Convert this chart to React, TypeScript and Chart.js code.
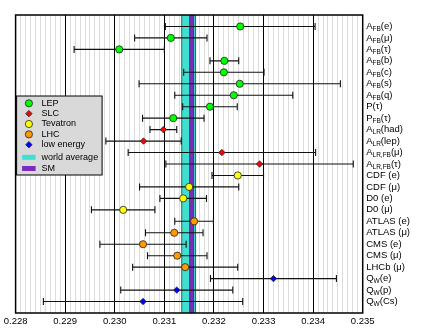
import React, { useEffect, useRef } from 'react';
import { Chart, registerables } from 'chart.js';

Chart.register(...registerables);

// ---- data ----
const categories = [
  'A_{FB}(e)', 'A_{FB}(μ)', 'A_{FB}(τ)', 'A_{FB}(b)', 'A_{FB}(c)', 'A_{FB}(s)', 'A_{FB}(q)',
  'P(τ)', 'P_{FB}(τ)', 'A_{LR}(had)', 'A_{LR}(lep)', 'A_{LR,FB}(μ)', 'A_{LR,FB}(τ)',
  'CDF (e)', 'CDF (μ)', 'D0 (e)', 'D0 (μ)', 'ATLAS (e)', 'ATLAS (μ)', 'CMS (e)', 'CMS (μ)',
  'LHCb (μ)', 'Q_{W}(e)', 'Q_{W}(p)', 'Q_{W}(Cs)',
];
const groupOf = [
  'LEP', 'LEP', 'LEP', 'LEP', 'LEP', 'LEP', 'LEP', 'LEP', 'LEP',
  'SLC', 'SLC', 'SLC', 'SLC',
  'Tevatron', 'Tevatron', 'Tevatron', 'Tevatron',
  'LHC', 'LHC', 'LHC', 'LHC', 'LHC',
  'low energy', 'low energy', 'low energy',
];
const values = [
  0.23253, 0.23113, 0.23009, 0.23221, 0.23220, 0.23252, 0.23240,
  0.23192, 0.23118, 0.23098, 0.23058, 0.23216, 0.23292,
  0.23248, 0.23150, 0.23138, 0.23017, 0.23160, 0.23120, 0.23057, 0.23126,
  0.23142, 0.23320, 0.23125, 0.23057,
];
const errors = [
  0.00151, 0.00073, 0.00091, 0.00029, 0.00081, 0.00203, 0.00119,
  0.00055, 0.00062, 0.00027, 0.00076, 0.00189, 0.00189,
  0.00052, 0.00100, 0.00047, 0.00064, 0.00039, 0.00058, 0.00087, 0.00060,
  0.00106, 0.00127, 0.00113, 0.00201,
];
const groupNames = ['LEP', 'SLC', 'Tevatron', 'LHC', 'low energy'];
const groupColors = ['#00ff00', '#ff0000', '#ffff00', '#ff9900', '#0000ff'];
const groupShapes = ['circle', 'rectRot', 'circle', 'circle', 'rectRot'];
const worldAverage = [0.23149, 0.00014]; // value, half-width
const smValue = [0.23155, 0.00004];
const xMajorTicks = [0.228, 0.229, 0.230, 0.231, 0.232, 0.233, 0.234, 0.235];
const xMin = 0.228;
const xMax = 0.235;
const xMinorStep = 0.0001;

const WA_COLOR = '#40e0d0';
const SM_COLOR = '#7b2cbf';
const FONT = "'Liberation Sans', Arial, Helvetica, sans-serif";

const isMajor = (v: number) => xMajorTicks.some((t) => Math.abs(t - v) < 1e-7);

function drawMarker(ctx: CanvasRenderingContext2D, shape: string, x: number, y: number, r: number, fill: string) {
  ctx.save();
  ctx.beginPath();
  if (shape === 'circle') {
    ctx.arc(x, y, r, 0, Math.PI * 2);
  } else {
    ctx.moveTo(x - r, y);
    ctx.lineTo(x, y - r);
    ctx.lineTo(x + r, y);
    ctx.lineTo(x, y + r);
    ctx.closePath();
  }
  ctx.fillStyle = fill;
  ctx.fill();
  ctx.lineWidth = 0.8;
  ctx.strokeStyle = '#222';
  ctx.stroke();
  ctx.restore();
}

const decorPlugin = {
  id: 'decor',
  beforeDatasetsDraw(chart: any) {
    const { ctx, chartArea, scales } = chart;
    const xs = scales.x;
    const ys = scales.y;
    ctx.save();
    const drawBand = (vals: number[], color: string) => {
      const l = xs.getPixelForValue(vals[0] - vals[1]);
      const r = xs.getPixelForValue(vals[0] + vals[1]);
      ctx.fillStyle = color;
      ctx.fillRect(l, chartArea.top, r - l, chartArea.bottom - chartArea.top);
      ctx.strokeStyle = '#333';
      ctx.lineWidth = 0.8;
      ctx.beginPath();
      ctx.moveTo(l, chartArea.top);
      ctx.lineTo(l, chartArea.bottom);
      ctx.moveTo(r, chartArea.top);
      ctx.lineTo(r, chartArea.bottom);
      ctx.stroke();
    };
    drawBand(worldAverage, WA_COLOR);
    drawBand(smValue, SM_COLOR);
    // error bars
    ctx.strokeStyle = '#111';
    ctx.lineWidth = 1.1;
    for (let i = 0; i < values.length; i++) {
      const y = ys.getPixelForValue(i);
      const l = xs.getPixelForValue(values[i] - errors[i]);
      const r = xs.getPixelForValue(values[i] + errors[i]);
      ctx.beginPath();
      ctx.moveTo(l, y);
      ctx.lineTo(r, y);
      ctx.moveTo(l, y - 3.5);
      ctx.lineTo(l, y + 3.5);
      ctx.moveTo(r, y - 3.5);
      ctx.lineTo(r, y + 3.5);
      ctx.stroke();
    }
    ctx.restore();
  },
  afterDraw(chart: any) {
    const { ctx, chartArea, scales } = chart;
    const ys = scales.y;
    ctx.save();
    // frame
    ctx.strokeStyle = '#000';
    ctx.lineWidth = 1.5;
    ctx.strokeRect(chartArea.left, chartArea.top, chartArea.right - chartArea.left, chartArea.bottom - chartArea.top);

    // category labels on the right, with subscripts
    ctx.fillStyle = '#000';
    ctx.textBaseline = 'middle';
    ctx.textAlign = 'left';
    const re = /^([^_]*)(?:_\{([^}]*)\})?(.*)$/;
    for (let i = 0; i < categories.length; i++) {
      const m = categories[i].match(re)!;
      const y = ys.getPixelForValue(i);
      let x = chartArea.right + 3.5;
      ctx.font = `9.5px ${FONT}`;
      ctx.fillText(m[1], x, y);
      x += ctx.measureText(m[1]).width;
      if (m[2]) {
        ctx.font = `6.5px ${FONT}`;
        ctx.fillText(m[2], x, y + 2.8);
        x += ctx.measureText(m[2]).width;
      }
      ctx.font = `9.5px ${FONT}`;
      ctx.fillText(m[3], x, y);
    }

    // legend
    const bx = chartArea.left + 1;
    const by = 96;
    const bw = 85.5;
    const bh = 79;
    ctx.fillStyle = '#d9d9d9';
    ctx.fillRect(bx, by, bw, bh);
    ctx.strokeStyle = '#000';
    ctx.lineWidth = 1;
    ctx.strokeRect(bx, by, bw, bh);
    ctx.font = `9px ${FONT}`;
    const mx = bx + 12.3;
    const tx = bx + 25;
    for (let k = 0; k < groupNames.length; k++) {
      const y = by + 7.3 + 10.35 * k;
      drawMarker(ctx, groupShapes[k], mx, y, groupShapes[k] === 'circle' ? 3.6 : 3.2, groupColors[k]);
      ctx.fillStyle = '#000';
      ctx.fillText(groupNames[k], tx, y);
    }
    const bands: [string, string][] = [['world average', WA_COLOR], ['SM', SM_COLOR]];
    bands.forEach(([name, color], j) => {
      const y = by + 61.3 + 11.2 * j;
      ctx.fillStyle = color;
      ctx.fillRect(bx + 5.5, y - 2.5, 13.5, 5);
      ctx.fillStyle = '#000';
      ctx.fillText(name, tx, y);
    });
    ctx.restore();
  },
};

export default function App() {
  const ref = useRef<HTMLCanvasElement | null>(null);
  useEffect(() => {
    if (!ref.current) return;
    const datasets = groupNames.map((g, k) => ({
      label: g,
      data: values
        .map((v, i) => ({ x: v, y: i, g: groupOf[i] }))
        .filter((p) => p.g === g)
        .map((p) => ({ x: p.x, y: p.y })),
      pointStyle: groupShapes[k],
      pointRadius: groupShapes[k] === 'circle' ? 3.6 : 3.2,
      backgroundColor: groupColors[k],
      borderColor: '#222',
      borderWidth: 0.8,
      showLine: false,
    }));
    const chart = new Chart(ref.current, {
      type: 'scatter',
      data: { datasets },
      plugins: [decorPlugin],
      options: {
        animation: false,
        responsive: true,
        maintainAspectRatio: false,
        layout: { padding: { left: 15.6, right: 64.3, top: 15, bottom: 0 } },
        plugins: { legend: { display: false }, tooltip: { enabled: false } },
        scales: {
          x: {
            type: 'linear',
            min: xMin,
            max: xMax,
            afterFit: (s: any) => { s.height = 17; },
            border: { display: false },
            grid: {
              drawTicks: false,
              color: (c: any) => (c.tick && isMajor(c.tick.value) ? '#000' : '#dcdcdc'),
              lineWidth: 1,
            },
            ticks: {
              stepSize: xMinorStep,
              autoSkip: false,
              maxRotation: 0,
              padding: 3,
              color: '#000',
              font: { family: FONT, size: 9.5 },
              callback: (v: any) => {
                const n = Number(v);
                return isMajor(n) ? n.toFixed(3) : '';
              },
            },
          },
          y: {
            type: 'linear',
            min: -1,
            max: categories.length,
            reverse: true,
            display: false,
          },
        },
      },
    });
    return () => chart.destroy();
  }, []);
  return (
    <div style={{ position: 'fixed', left: 0, top: 0, width: 427, height: 330, background: '#fff' }}>
      <canvas ref={ref} />
    </div>
  );
}
